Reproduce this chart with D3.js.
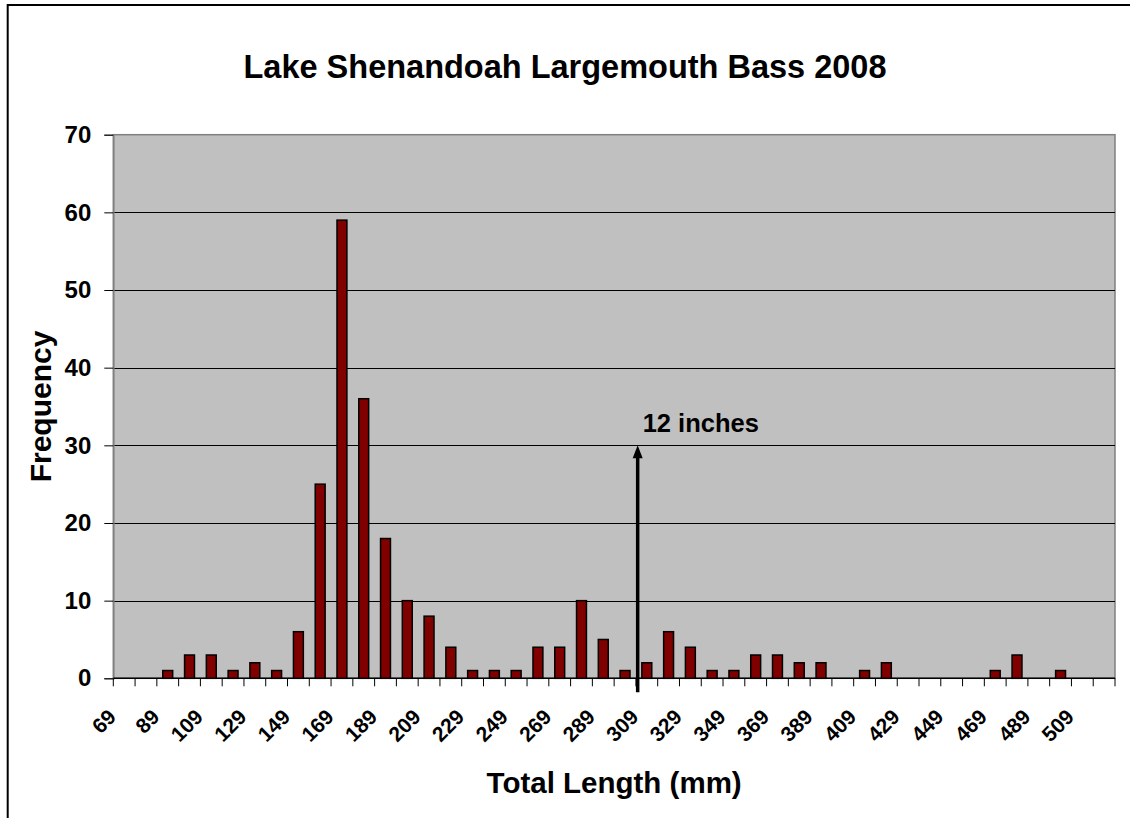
<!DOCTYPE html>
<html>
<head>
<meta charset="utf-8">
<script src="https://cdn.jsdelivr.net/npm/d3@7"></script>
<style>
  html, body { margin: 0; padding: 0; background: #fff; overflow: hidden; }
  svg { display: block; font-family: "Liberation Sans", Arial, sans-serif; }
</style>
</head>
<body>
<svg id="chart" width="1130" height="818"></svg>
<script>
// ---- data ----
const categories = [69, 79, 89, 99, 109, 119, 129, 139, 149, 159, 169, 179, 189, 199, 209, 219, 229, 239, 249, 259,
  269, 279, 289, 299, 309, 319, 329, 339, 349, 359, 369, 379, 389, 399, 409, 419, 429, 439, 449, 459,
  469, 479, 489, 499, 509, 519];
const frequency = [0, 0, 1, 3, 3, 1, 2, 1, 6, 25, 59, 36, 18, 10, 8, 4, 1, 1, 1, 4,
  4, 10, 5, 1, 2, 6, 4, 1, 1, 3, 3, 2, 2, 0, 1, 2, 0, 0, 0, 0,
  1, 3, 0, 1, 0, 0];
const yTicks = [0, 10, 20, 30, 40, 50, 60, 70];
const title = "Lake Shenandoah Largemouth Bass 2008";
const xTitle = "Total Length (mm)";
const yTitle = "Frequency";
const annotationText = "12 inches";
const annotationLength = 304.8; // 12 inches in mm
const annotationFreq = 30;

// ---- layout ----
const svg = d3.select("#chart");
const plot = { left: 113.3, right: 1115, top: 134.7, bottom: 678.3 };
const font = '"Liberation Sans", Arial, sans-serif';

// outer frame (cropped on right and bottom)
svg.append("rect").attr("x", 7.7).attr("y", 5).attr("width", 1300).attr("height", 1000)
  .attr("fill", "#fff").attr("stroke", "#000").attr("stroke-width", 2);

const x = d3.scaleBand().domain(categories).range([plot.left, plot.right]).paddingInner(0).paddingOuter(0);
const y = d3.scaleLinear().domain([0, 70]).range([plot.bottom, plot.top]);
const step = x.step();
const barW = step / 2.2;

// plot background
svg.append("rect").attr("x", plot.left).attr("y", plot.top)
  .attr("width", plot.right - plot.left).attr("height", plot.bottom - plot.top)
  .attr("fill", "#c0c0c0").attr("stroke", "#808080").attr("stroke-width", 1.5);

// gridlines
svg.append("g").selectAll("line").data(yTicks.filter(d => d > 0 && d < 70)).join("line")
  .attr("x1", plot.left).attr("x2", plot.right)
  .attr("y1", d => Math.round(y(d)) + 0.5).attr("y2", d => Math.round(y(d)) + 0.5)
  .attr("stroke", "#000").attr("stroke-width", 1);

// y axis
const yAxis = d3.axisLeft(y).tickValues(yTicks).tickSize(9).tickPadding(13).tickFormat(d3.format("d"));
const gy = svg.append("g").attr("transform", `translate(${plot.left},0)`).call(yAxis);
gy.select(".domain").attr("stroke", "#808080").attr("stroke-width", 1.5);
gy.selectAll(".tick line").attr("stroke", "#000");
gy.selectAll(".tick text").attr("font-family", font).attr("font-size", 24).attr("font-weight", "bold").attr("fill", "#000");

// x axis: ticks at category boundaries
const boundaries = d3.range(categories.length + 1).map(i => plot.left + i * step);
svg.append("line").attr("x1", plot.left).attr("x2", plot.right)
  .attr("y1", plot.bottom).attr("y2", plot.bottom).attr("stroke", "#000").attr("stroke-width", 1.5);
svg.append("g").selectAll("line").data(boundaries).join("line")
  .attr("x1", d => d).attr("x2", d => d).attr("y1", plot.bottom).attr("y2", plot.bottom + 8)
  .attr("stroke", "#000").attr("stroke-width", 1);

// x tick labels (every other)
svg.append("g").selectAll("text").data(categories.filter((d, i) => i % 2 === 0)).join("text")
  .attr("transform", d => `translate(${x(d) + step / 2 - 7},${plot.bottom + 40}) rotate(-45)`)
  .attr("text-anchor", "end")
  .attr("font-family", font).attr("font-size", 21).attr("font-weight", "bold").attr("fill", "#000")
  .text(d => d);

// bars
svg.append("g").selectAll("rect").data(categories.map((c, i) => ({ c, v: frequency[i] })).filter(d => d.v > 0))
  .join("rect")
  .attr("x", d => x(d.c) + (step - barW) / 2)
  .attr("y", d => y(d.v))
  .attr("width", barW)
  .attr("height", d => plot.bottom - y(d.v))
  .attr("fill", "#800000").attr("stroke", "#000").attr("stroke-width", 1.5);

// annotation arrow
const idx = categories.findIndex(c => c > annotationLength) - 1;
const ax = x(categories[idx]) + step / 2 + (annotationLength - categories[idx]) / 10 * step;
svg.append("line").attr("x1", ax).attr("x2", ax)
  .attr("y1", plot.bottom + 14).attr("y2", y(annotationFreq) + 10)
  .attr("stroke", "#000").attr("stroke-width", 3.5);
svg.append("path")
  .attr("d", `M${ax},${y(annotationFreq)} L${ax - 5},${y(annotationFreq) + 13} L${ax + 5},${y(annotationFreq) + 13} Z`)
  .attr("fill", "#000");
svg.append("text").attr("x", ax + 5).attr("y", y(annotationFreq) - 13)
  .attr("font-family", font).attr("font-size", 25.5).attr("font-weight", "bold").attr("fill", "#000")
  .text(annotationText);

// titles
svg.append("text").attr("x", 565).attr("y", 78).attr("text-anchor", "middle")
  .attr("font-family", font).attr("font-size", 32.5).attr("font-weight", "bold").attr("fill", "#000")
  .text(title);
svg.append("text").attr("x", (plot.left + plot.right) / 2).attr("y", 793).attr("text-anchor", "middle")
  .attr("font-family", font).attr("font-size", 29.5).attr("font-weight", "bold").attr("fill", "#000")
  .text(xTitle);
svg.append("text").attr("transform", `translate(51,${(plot.top + plot.bottom) / 2}) rotate(-90)`)
  .attr("text-anchor", "middle")
  .attr("font-family", font).attr("font-size", 30).attr("font-weight", "bold").attr("fill", "#000")
  .text(yTitle);
</script>
</body>
</html>
